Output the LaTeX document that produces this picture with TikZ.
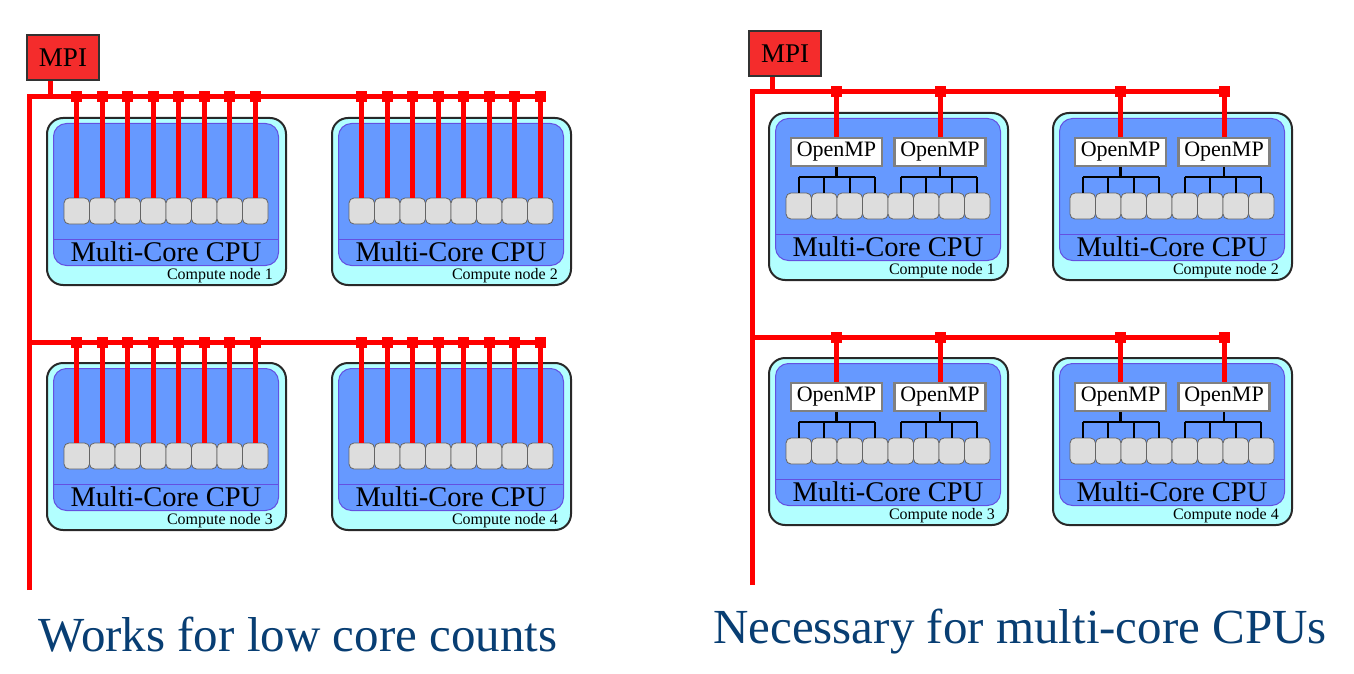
\documentclass[tikz,border=0pt]{standalone}
\usepackage{fontspec}
\setmainfont{Liberation Serif}
\usepackage{tikz}
\usetikzlibrary{calc}
\definecolor{mpired}{RGB}{255,0,0}
\definecolor{mpifill}{RGB}{244,44,44}
\definecolor{mpiedge}{RGB}{50,50,50}
\definecolor{cncyan}{RGB}{178,255,255}
\definecolor{cnedge}{RGB}{40,40,40}
\definecolor{cpublue}{RGB}{102,153,255}
\definecolor{cpuedge}{RGB}{100,80,225}
\definecolor{coregray}{RGB}{221,221,221}
\definecolor{coreedge}{RGB}{100,100,100}
\definecolor{ompedge}{RGB}{128,128,128}
\definecolor{capblue}{RGB}{8,62,115}
\tikzset{
  cnbox/.style={
    draw=cnedge, fill=cncyan, line width=2pt, rounded corners=16pt,
    minimum width=239pt, minimum height=167pt, inner sep=0pt
  },
  cpubox/.style={
    draw=cpuedge, fill=cpublue, line width=1pt, rounded corners=13pt,
    minimum width=225pt, minimum height=142pt, inner sep=0pt
  },
  cpuline/.style={draw=cpuedge, line width=1pt},
  cpulabel/.style={font=\fontsize{28.5}{30}\selectfont, inner sep=0pt},
  cnlabel/.style={font=\fontsize{16}{18}\selectfont, inner sep=0pt, anchor=east},
  core/.style={
    draw=coreedge, fill=coregray, line width=0.8pt, rounded corners=5pt,
    minimum width=25.5pt, minimum height=26pt, inner sep=0pt
  },
  ompbox/.style={
    draw=ompedge, fill=white, line width=2.4pt, inner sep=0pt,
    minimum width=91pt, minimum height=28pt, font=\fontsize{22}{24}\selectfont
  },
  mpibox/.style={
    draw=mpiedge, fill=mpifill, line width=2pt, inner sep=0pt,
    minimum width=72pt, minimum height=45pt, font=\fontsize{27}{29}\selectfont
  },
  bus/.style={draw=mpired, line width=5pt},
  busdot/.style={fill=mpired, minimum size=11pt, inner sep=0pt},
  tree/.style={draw=black, line width=2.4pt},
  caption/.style={font=\fontsize{49}{52}\selectfont, text=capblue, inner sep=0pt}
}
% one compute node: #1 name, #2 number
\newcommand{\cnbase}[2]{
  \node[cnbox] (#1) at (120.5,84.5) {};
  \node[cpubox] (#1-cpu) at (120,77.5) {};
  \draw[cpuline] (7,122) -- (233,122);
  \node[cpulabel] (#1-txt) at (120,135) {Multi-Core CPU};
  \node[cnlabel] (#1-num) at (227,159) {Compute node #2};
  \foreach \i in {1,...,8}
    \node[core] (#1-c\i) at ({30.75+(\i-1)*25.5},94) {};
}
% one MPI line per core
\newcommand{\flatdrops}[1]{
  \foreach \i in {1,...,8}{
    \node[busdot] (#1-m\i) at (#1-c\i |- #1-bus) {};
    \draw[bus] (#1-m\i.center) -- (#1-c\i.north);
  }
}
% MPI to OpenMP, OpenMP to cores
\newcommand{\ompdrops}[1]{
  \node[ompbox] (#1-o1) at (68.5,40) {OpenMP};
  \node[ompbox] (#1-o2) at (172,40) {OpenMP};
  \foreach \k/\a/\b in {1/1/4,2/5/8}{
    \node[busdot] (#1-m\k) at (#1-o\k |- #1-bus) {};
    \draw[bus] (#1-m\k.center) -- (#1-o\k.north);
    \coordinate (#1-t\k) at ([yshift=-10pt]#1-o\k.south);
    \draw[tree] (#1-o\k.south) -- (#1-t\k);
    \draw[tree] (#1-c\a.north |- #1-t\k) -- (#1-c\b.north |- #1-t\k);
  }
  \foreach \i in {1,...,8}
    \draw[tree] (#1-c\i.north) -- (#1-c\i.north |- #1-t1);
}
\begin{document}
\begin{tikzpicture}[x=1pt,y=-1pt]
  \useasboundingbox (0,0) rectangle (1354,674);
  % left: pure MPI
  \foreach \n/\num/\px/\py in {l1/1/46/117,l2/2/331/117,l3/3/46/362,l4/4/331/362}{
    \begin{scope}[shift={(\px,\py)}]
      \coordinate (\n-bus) at (0,-20);
      \cnbase{\n}{\num}
      \flatdrops{\n}
    \end{scope}
  }
  \node[mpibox] (mpil) at (63,58) {MPI};
  \coordinate (l-corner) at (29,97);
  \coordinate (l-end) at (29,590);
  \draw[bus] (l-end) -- (l-corner) -- (l2-m8.center);
  \draw[bus] (l-corner |- l3-m1) -- (l4-m8.center);
  \draw[bus] ([xshift=-13pt]mpil.south) -- ([xshift=-13pt]mpil.south |- l-corner);
  \node[caption] (capl) at (298,635) {Works for low core counts};
  % right: MPI + OpenMP
  \foreach \n/\num/\px/\py in {r1/1/768/112,r2/2/1052/112,r3/3/768/357,r4/4/1052/357}{
    \begin{scope}[shift={(\px,\py)}]
      \coordinate (\n-bus) at (0,-20);
      \cnbase{\n}{\num}
      \ompdrops{\n}
    \end{scope}
  }
  \node[mpibox] (mpir) at (785,53.5) {MPI};
  \coordinate (r-corner) at (752,92);
  \coordinate (r-end) at (752,585);
  \draw[bus] (r-end) -- (r-corner) -- (r2-m2.center);
  \draw[bus] (r-corner |- r3-m1) -- (r4-m2.center);
  \draw[bus] ([xshift=-13pt]mpir.south) -- ([xshift=-13pt]mpir.south |- r-corner);
  \node[caption] (capr) at (1020,632) {Necessary for multi-core CPUs};
\end{tikzpicture}
\end{document}
